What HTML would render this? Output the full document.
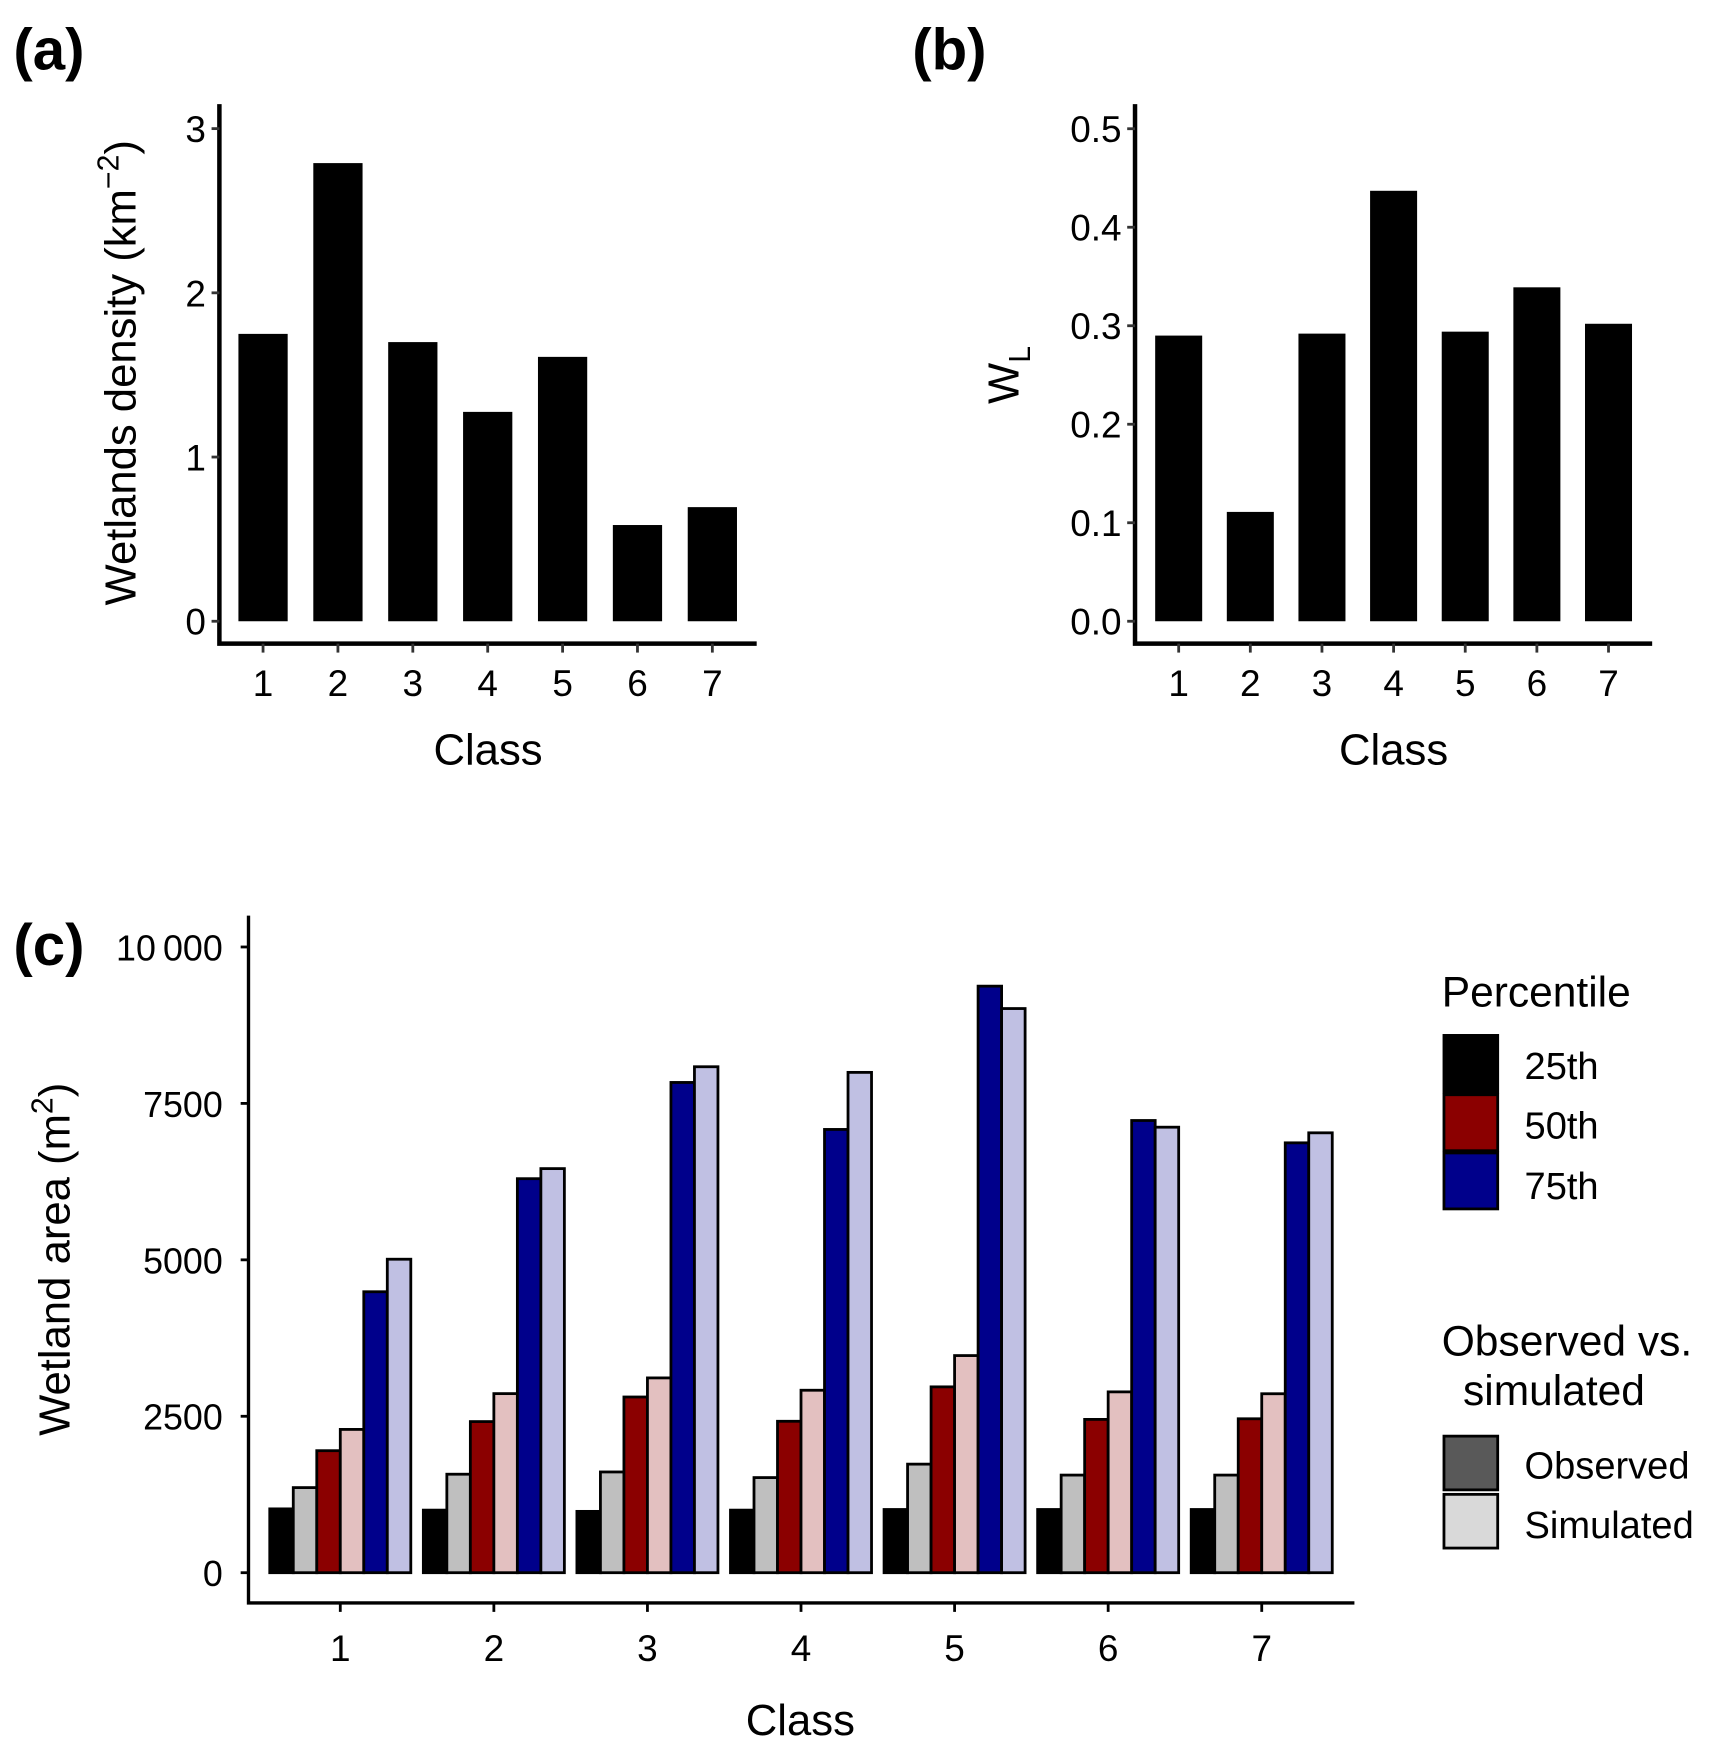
<!DOCTYPE html>
<html><head><meta charset="utf-8"><style>
body{margin:0;background:#fff}
svg{display:block}
text{font-family:"Liberation Sans",sans-serif;fill:#000}
</style></head><body>
<svg id="fig" width="1735" height="1763" viewBox="0 0 1550 1575">
<g id="pa"></g>
<g id="pb"></g>
<g id="pc"></g>
</svg>
<script>
const classes = ["1","2","3","4","5","6","7"];
const densityValues = [1.75, 2.79, 1.70, 1.275, 1.61, 0.586, 0.695];
const densityTicks = [0,1,2,3];
const wlValues = [0.29, 0.111, 0.292, 0.437, 0.294, 0.339, 0.302];
const wlTicks = [0,0.1,0.2,0.3,0.4,0.5];
const wlTickLabels = ["0.0","0.1","0.2","0.3","0.4","0.5"];
const areaTicks = [0,2500,5000,7500,10000];
const areaTickLabels = ["0","2500","5000","7500","10\u2009000"];
const obs25 = [1020,1000,980,1000,1010,1010,1010];
const sim25 = [1360,1574,1610,1520,1735,1560,1560];
const obs50 = [1950,2415,2808,2420,2970,2450,2460];
const sim50 = [2290,2862,3113,2916,3470,2890,2860];
const obs75 = [4490,6297,7835,7084,9374,7227,6870];
const sim75 = [5010,6458,8086,7996,9016,7120,7030];
const NS="http://www.w3.org/2000/svg";
function mk(parent,tag,attrs,txt){const e=document.createElementNS(NS,tag);for(const k in attrs)e.setAttribute(k,attrs[k]);if(txt!==undefined)e.textContent=txt;parent.appendChild(e);return e;}

function barPanel(g,o){
  const y=v=>o.y0-(v-0)*o.scale;
  const x=i=>o.x0+i*o.step;
  o.vals.forEach((v,i)=>{
    const r=mk(g,'rect',{x:x(i)-o.bw/2,y:y(v),width:o.bw,height:y(0)-y(v),fill:'#000'});
    
    
  });
  const ax=mk(g,'path',{d:`M${o.ax} ${o.top}V${o.axY}H${o.right}`,stroke:'#000','stroke-width':4,fill:'none'});
  
  o.ticks.forEach((t,i)=>{
    mk(g,'line',{x1:o.ax-7,x2:o.ax,y1:y(t),y2:y(t),stroke:'#333','stroke-width':2.5});
    const tl=mk(g,'text',{x:o.ax-12,y:y(t)+12,'font-size':33,'text-anchor':'end'},o.tickLabels[i]);
    
  });
  classes.forEach((c,i)=>{
    mk(g,'line',{x1:x(i),x2:x(i),y1:o.axY,y2:o.axY+8,stroke:'#333','stroke-width':2.5});
    const tl=mk(g,'text',{x:x(i),y:o.axY+47,'font-size':33,'text-anchor':'middle'},c);
    
  });
}
const pa=document.getElementById('pa');
barPanel(pa,{vals:densityValues,ticks:densityTicks,tickLabels:densityTicks.map(String),y0:555,scale:146.7,x0:235,step:66.9,bw:44,ax:196,top:93,axY:575,right:676});
const pb=document.getElementById('pb');
barPanel(pb,{vals:wlValues,ticks:wlTicks,tickLabels:wlTickLabels,y0:555,scale:880,x0:1053,step:64,bw:42,ax:1014,top:93,axY:575,right:1476});

pa.insertAdjacentHTML('beforeend',`
<text x="12" y="62" font-size="52" font-weight="bold">(a)</text>
<text x="436" y="683" font-size="39" text-anchor="middle">Class</text>
<text transform="translate(121,333) rotate(-90)" font-size="39" text-anchor="middle">Wetlands density (km<tspan font-size="27" dy="-15">−2</tspan><tspan dy="15">)</tspan></text>`);
pb.insertAdjacentHTML('beforeend',`
<text x="815" y="62" font-size="52" font-weight="bold">(b)</text>
<text x="1245" y="683" font-size="39" text-anchor="middle">Class</text>
<text transform="translate(910,335) rotate(-90)" font-size="39" text-anchor="middle">W<tspan font-size="27" dy="10">L</tspan></text>`);

const pc=document.getElementById('pc');
const series=[obs25,sim25,obs50,sim50,obs75,sim75];
const seriesNames=['observed-25th','simulated-25th','observed-50th','simulated-50th','observed-75th','simulated-75th'];
const colors=['#000000','#bfbfbf','#8b0000','#e3c0c0','#00008b','#c0c0e3'];
const cy=v=>1405-v*0.0559;
const cx=i=>304+i*137.2;
const bw=21;
classes.forEach((c,i)=>{
  series.forEach((s,j)=>{
    const v=s[i];
    const r=mk(pc,'rect',{x:cx(i)-63+j*bw,y:cy(v),width:bw,height:cy(0)-cy(v),fill:colors[j],stroke:'#000','stroke-width':2.5});
    
    
  });
});
const axc=mk(pc,'path',{d:'M222 818V1432H1210',stroke:'#000','stroke-width':3,fill:'none'});

areaTicks.forEach((t,i)=>{
  mk(pc,'line',{x1:215,x2:222,y1:cy(t),y2:cy(t),stroke:'#000','stroke-width':2.5});
  const tl=mk(pc,'text',{x:199,y:cy(t)+12,'font-size':32,'text-anchor':'end'},areaTickLabels[i]);
  
});
classes.forEach((c,i)=>{
  mk(pc,'line',{x1:cx(i),x2:cx(i),y1:1432,y2:1440,stroke:'#000','stroke-width':2.5});
  const tl=mk(pc,'text',{x:cx(i),y:1484,'font-size':33,'text-anchor':'middle'},c);
  
});
pc.insertAdjacentHTML('beforeend',`
<text x="12" y="862" font-size="52" font-weight="bold">(c)</text>
<text x="715" y="1550" font-size="39" text-anchor="middle">Class</text>
<text transform="translate(62,1125) rotate(-90)" font-size="39" text-anchor="middle">Wetland area (m<tspan font-size="27" dy="-15">2</tspan><tspan dy="15">)</tspan></text>
<g>
<text x="1288" y="899" font-size="38">Percentile</text>
<rect x="1290" y="925" width="48" height="51" fill="#000" stroke="#000" stroke-width="2.5"/>
<rect x="1290" y="978" width="48" height="50" fill="#8b0000" stroke="#000" stroke-width="2.5"/>
<rect x="1290" y="1030" width="48" height="50" fill="#00008b" stroke="#000" stroke-width="2.5"/>
<text x="1362" y="964" font-size="34">25th</text>
<text x="1362" y="1017" font-size="34">50th</text>
<text x="1362" y="1071" font-size="34">75th</text>
</g>
<g>
<text x="1288" y="1211" font-size="38">Observed vs.</text>
<text x="1307" y="1255" font-size="38">simulated</text>
<rect x="1290" y="1283" width="48" height="48" fill="#595959" stroke="#000" stroke-width="2.5"/>
<rect x="1290" y="1335" width="48" height="48" fill="#d9d9d9" stroke="#000" stroke-width="2.5"/>
<text x="1362" y="1321" font-size="34">Observed</text>
<text x="1362" y="1374" font-size="34">Simulated</text>
</g>`);
</script>
</body></html>
